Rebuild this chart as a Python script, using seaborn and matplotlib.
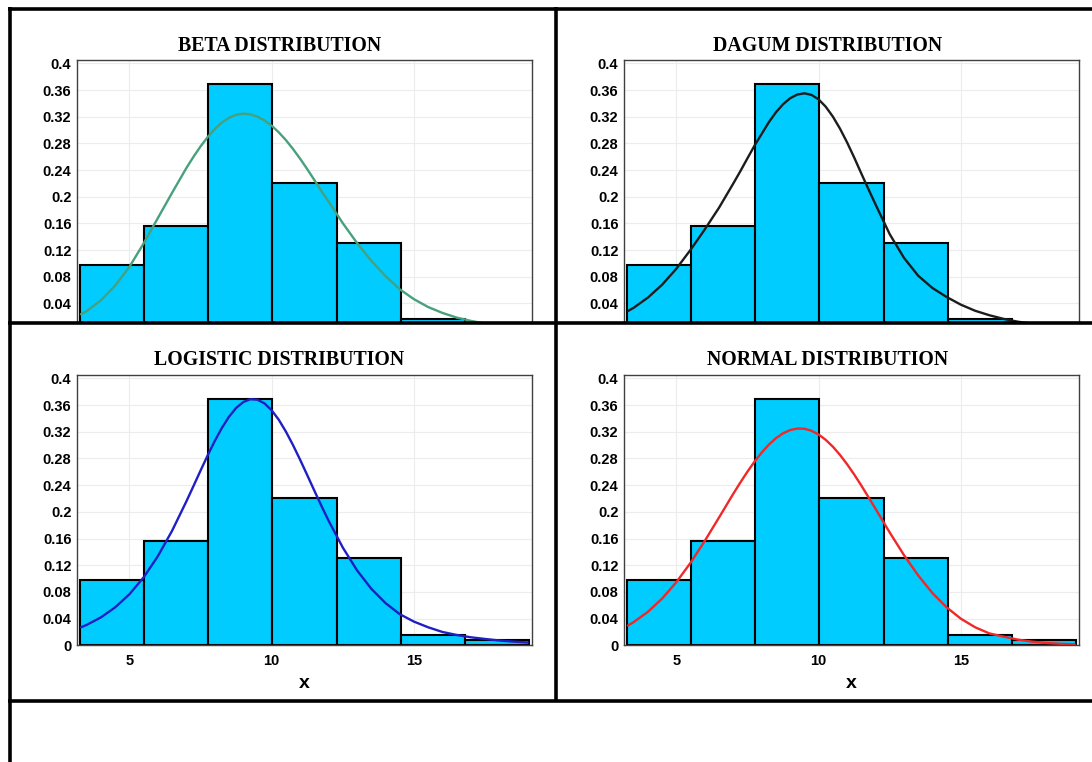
# Fitted distributions over a relative-frequency histogram (2x2 panel sheet)

import numpy as np
import pandas as pd
import seaborn as sns
import matplotlib.pyplot as plt
from matplotlib.lines import Line2D
from matplotlib.ticker import MultipleLocator

# histogram (relative frequency per bin)
bin_edges = [3.28, 5.53, 7.78, 10.03, 12.28, 14.53, 16.78, 19.03]
rel_freq = [0.098, 0.156, 0.369, 0.221, 0.131, 0.016, 0.008]

# fitted curves, read at these x positions (denser around the peak)
curve_x = [3.3, 3.5, 4.0, 4.5, 5.0, 5.5, 6.0, 6.5, 7.0,
           7.25, 7.5, 7.75, 8.0, 8.25, 8.5, 8.75, 9.0, 9.25, 9.5, 9.75,
           10.0, 10.25, 10.5, 10.75, 11.0, 11.25, 11.5, 11.75, 12.0,
           12.5, 13.0, 13.5, 14.0, 14.5, 15.0, 15.5, 16.0, 16.5, 17.0,
           17.5, 18.0, 18.5, 19.0]
beta_y = [0.0237, 0.0284, 0.0446, 0.0666, 0.0946, 0.1298, 0.1678, 0.2057, 0.2427,
          0.2596, 0.2753, 0.2893, 0.3014, 0.3111, 0.3183, 0.3228, 0.3245, 0.3235,
          0.3201, 0.3144, 0.3065, 0.2966, 0.2849, 0.2716, 0.2570, 0.2414, 0.2251,
          0.2083, 0.1928, 0.1603, 0.1306, 0.1040, 0.0811, 0.0612, 0.0463, 0.0345,
          0.0257, 0.0187, 0.0137, 0.0098, 0.0069, 0.0048, 0.0033]
dagum_y = [0.0285, 0.0334, 0.0487, 0.0680, 0.0920, 0.1204, 0.1510, 0.1835, 0.2197,
           0.2383, 0.2577, 0.2768, 0.2943, 0.3117, 0.3266, 0.3387, 0.3477, 0.3532,
           0.3550, 0.3527, 0.3459, 0.3349, 0.3201, 0.3021, 0.2814, 0.2587, 0.2348,
           0.2113, 0.1883, 0.1436, 0.1082, 0.0814, 0.0630, 0.0495, 0.0380, 0.0289,
           0.0222, 0.0167, 0.0125, 0.0095, 0.0072, 0.0055, 0.0042]
logistic_y = [0.0270, 0.0306, 0.0418, 0.0568, 0.0764, 0.1017, 0.1334, 0.1715, 0.2153,
              0.2383, 0.2616, 0.2844, 0.3060, 0.3256, 0.3424, 0.3555, 0.3644, 0.3687,
              0.3680, 0.3624, 0.3522, 0.3380, 0.3203, 0.3001, 0.2781, 0.2551, 0.2318,
              0.2089, 0.1868, 0.1465, 0.1124, 0.0848, 0.0633, 0.0467, 0.0355, 0.0270,
              0.0200, 0.0155, 0.0120, 0.0095, 0.0072, 0.0055, 0.0042]
normal_y = [0.0297, 0.0348, 0.0502, 0.0700, 0.0946, 0.1237, 0.1565, 0.1915, 0.2270,
            0.2440, 0.2603, 0.2754, 0.2888, 0.3007, 0.3103, 0.3177, 0.3225, 0.3248,
            0.3245, 0.3214, 0.3158, 0.3078, 0.2976, 0.2853, 0.2713, 0.2559, 0.2394,
            0.2221, 0.2044, 0.1689, 0.1351, 0.1046, 0.0783, 0.0568, 0.0398, 0.0270,
            0.0178, 0.0130, 0.0085, 0.0055, 0.0035, 0.0022, 0.0014]

panel_titles = ["BETA DISTRIBUTION", "DAGUM DISTRIBUTION",
                "LOGISTIC DISTRIBUTION", "NORMAL DISTRIBUTION"]
curve_colors = ["#48a07c", "#1c1c1c", "#1f1fc4", "#f02828"]
y_ticks = [round(0.04 * i, 2) for i in range(11)]
x_ticks = [5, 10, 15]

W, H = 1092, 762


def fx(px):
    return px / W


def fy(py):
    return 1 - py / H


sns.set_style("white")
plt.rcParams["font.family"] = ["Liberation Sans", "DejaVu Sans"]
plt.rcParams["text.color"] = "black"
plt.rcParams["xtick.labelcolor"] = "black"
plt.rcParams["ytick.labelcolor"] = "black"
plt.rcParams["axes.labelcolor"] = "black"

fig = plt.figure(figsize=(W / 100, H / 100), dpi=100)
fig.patch.set_facecolor("white")

centers = (np.array(bin_edges[:-1]) + np.array(bin_edges[1:])) / 2
hist_df = pd.DataFrame({"x": centers, "w": rel_freq})
curves = [beta_y, dagum_y, logistic_y, normal_y]

# pixel boxes (left, top, right, bottom); top row is cut off by the cell border
boxes = [(77, 60, 532, 322.5), (624, 60, 1079, 322.5),
         (77, 375, 532, 645.3), (624, 375, 1079, 645.3)]
title_pos = [(280, 46), (828, 46), (279, 360), (828, 360)]

for i in range(4):
    l, t, r, b = boxes[i]
    ax = fig.add_axes([fx(l), fy(b), fx(r) - fx(l), fy(t) - fy(b)])
    sns.histplot(data=hist_df, x="x", weights="w", bins=bin_edges, stat="count",
                 color="#00ccff", edgecolor="black", linewidth=1.5, alpha=1, ax=ax)
    sns.lineplot(x=curve_x, y=curves[i], color=curve_colors[i], linewidth=1.7, ax=ax)

    ax.set_yticks(y_ticks)
    ax.set_yticklabels([f"{v:g}" for v in y_ticks])
    ax.set_xticks(x_ticks)
    ax.xaxis.set_minor_locator(MultipleLocator(1.25))
    # limits after the ticks, so the ticks don't widen them
    ax.set_xlim(3.16, 19.15)
    if i < 2:
        ax.set_ylim(0.0113, 0.405)
    else:
        ax.set_ylim(0, 0.405)
    ax.grid(True, which="major", color="#ececec", linewidth=0.8)
    ax.set_axisbelow(True)
    for s in ax.spines.values():
        s.set_color("#404040")
        s.set_linewidth(1)
    ax.tick_params(axis="both", which="both", direction="out", length=3,
                   width=0.8, color="#404040")
    ax.tick_params(axis="y", pad=1)
    ax.tick_params(axis="x", pad=3)
    ax.tick_params(axis="both", labelsize=10.5)
    for lab in ax.get_yticklabels() + ax.get_xticklabels():
        lab.set_fontweight("bold")
    ax.set_ylabel("")
    if i < 2:
        ax.set_xlabel("")
        ax.set_xticklabels([])
        ax.spines["bottom"].set_visible(False)
        ax.tick_params(axis="x", which="both", length=0)
    else:
        ax.set_xlabel("x", fontsize=14, fontweight="bold", labelpad=5)

    tx, ty = title_pos[i]
    fig.text(fx(tx), fy(ty), panel_titles[i], ha="center", va="center",
             fontsize=14.3, fontweight="bold", family="Liberation Serif",
             color="black")

# thick black cell borders of the sheet
borders = [((8, 1092), (8.5, 8.5)), ((9.5, 9.5), (7, 762)), ((556, 556), (7, 701)),
           ((8, 1092), (322.5, 322.5)), ((8, 1092), (701, 701))]
for xs, ys in borders:
    fig.add_artist(Line2D([fx(v) for v in xs], [fy(v) for v in ys],
                          color="black", linewidth=2.6, zorder=10,
                          solid_capstyle="butt"))

plt.savefig("out.png", dpi=100)
